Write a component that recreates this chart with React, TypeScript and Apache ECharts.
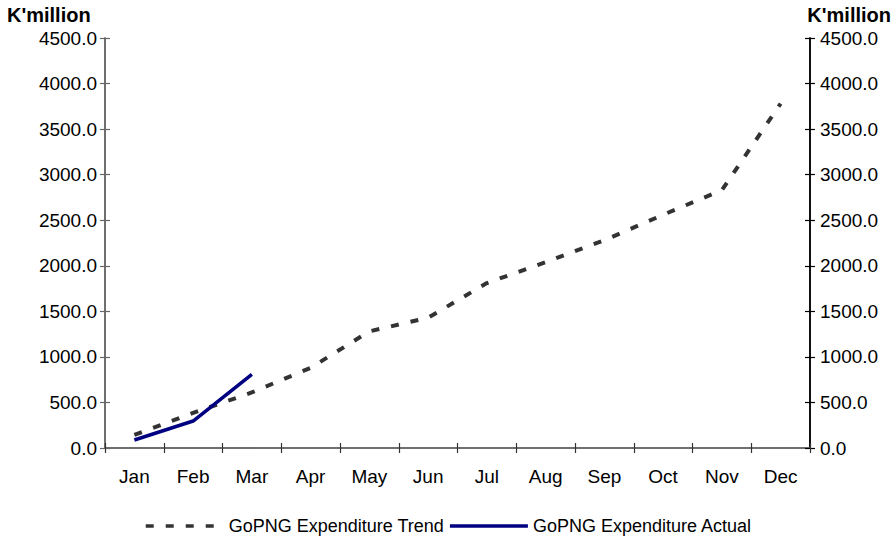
import React, { useEffect, useRef } from "react";
import * as echarts from "echarts";

const months = ["Jan", "Feb", "Mar", "Apr", "May", "Jun", "Jul", "Aug", "Sep", "Oct", "Nov", "Dec"];
const trendValues = [143, 385, 610, 880, 1280, 1430, 1810, 2040, 2280, 2560, 2830, 3780];
const actualValues = [88, 296, 809];
const yMin = 0;
const yMax = 4500;
const yInterval = 500;
const unitLabel = "K'million";
const trendName = "GoPNG Expenditure Trend";
const actualName = "GoPNG Expenditure Actual";

const FONT = "'Liberation Sans', Arial, sans-serif";

export default function App() {
  const ref = useRef<HTMLDivElement>(null);
  useEffect(() => {
    if (!ref.current) return;
    const chart = echarts.init(ref.current, undefined, { renderer: "svg" });
    const yBase = (pos: "left" | "right", inside: boolean, color: string, showLabel: boolean) => ({
      type: "value",
      position: pos,
      min: yMin,
      max: yMax,
      interval: yInterval,
      splitLine: { show: false },
      axisLine: { show: true, lineStyle: { color, width: 1.5 } },
      axisTick: { show: true, inside, length: 5, lineStyle: { color, width: 1.2 } },
      axisLabel: {
        show: showLabel,
        margin: pos === "left" ? 8 : 10,
        color: "#000",
        fontFamily: FONT,
        fontSize: 19,
        formatter: (v: number) => v.toFixed(1),
      },
    });
    const xBase = (inside: boolean, showLabel: boolean) => ({
      type: "category",
      data: months,
      boundaryGap: true,
      position: "bottom",
      axisLine: { show: true, onZero: false, lineStyle: { color: "#666", width: 1.5 } },
      axisTick: { show: true, inside, length: 5, alignWithLabel: false, lineStyle: { color: "#333", width: 1.2 } },
      axisLabel: {
        show: showLabel,
        margin: 19,
        color: "#000",
        fontFamily: FONT,
        fontSize: 19,
      },
      splitLine: { show: false },
    });
    chart.setOption({
      animation: false,
      backgroundColor: "#fff",
      title: [
        {
          text: unitLabel,
          left: 7,
          top: 5,
          textStyle: { fontFamily: FONT, fontSize: 20, fontWeight: "bold", color: "#000" },
          padding: 0,
        },
        {
          text: unitLabel,
          right: 5,
          top: 5,
          textStyle: { fontFamily: FONT, fontSize: 20, fontWeight: "bold", color: "#000" },
          padding: 0,
        },
      ],
      grid: { left: 105, right: 86, top: 38, bottom: 94, containLabel: false },
      legend: {
        left: "center",
        top: 512,
        itemWidth: 78,
        itemHeight: 14,
        itemGap: 4,
        itemStyle: { opacity: 0 },
        lineStyle: { width: 3.5 },
        textStyle: { fontFamily: FONT, fontSize: 18, color: "#000" },
        data: [trendName, actualName],
      },
      xAxis: [xBase(false, true), xBase(true, false)],
      yAxis: [
        yBase("left", false, "#666", true),
        yBase("right", false, "#000", true),
        yBase("left", true, "#666", false),
        yBase("right", true, "#000", false),
      ],
      series: [
        {
          name: trendName,
          type: "line",
          data: trendValues,
          xAxisIndex: 0,
          yAxisIndex: 0,
          symbol: "none",
          showSymbol: false,
          lineStyle: { color: "#333333", width: 4, type: [8, 12] },
          itemStyle: { color: "#333333" },
        },
        {
          name: actualName,
          type: "line",
          data: actualValues,
          xAxisIndex: 0,
          yAxisIndex: 0,
          symbol: "none",
          showSymbol: false,
          lineStyle: { color: "#000080", width: 3.5 },
          itemStyle: { color: "#000080" },
        },
      ],
    });
    return () => chart.dispose();
  }, []);
  return <div ref={ref} style={{ width: 896, height: 542, position: "absolute", left: 0, top: 0 }} />;
}
